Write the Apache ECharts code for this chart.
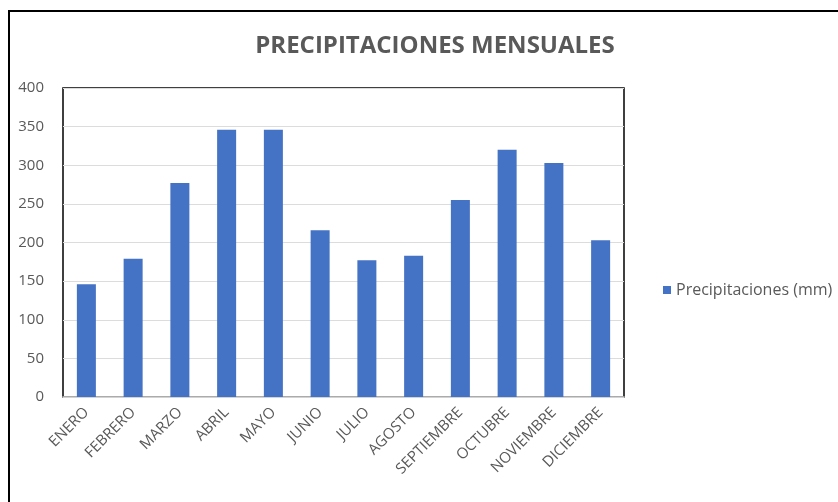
<!DOCTYPE html>
<html>
<head>
<meta charset="utf-8">
<script src="https://cdn.jsdelivr.net/npm/echarts@6/dist/echarts.min.js"></script>
<style>
  html, body { margin: 0; padding: 0; background: #fff; }
  #main { width: 838px; height: 502px; }
</style>
</head>
<body>
<div id="main"></div>
<script>
var months = ['ENERO', 'FEBRERO', 'MARZO', 'ABRIL', 'MAYO', 'JUNIO', 'JULIO',
              'AGOSTO', 'SEPTIEMBRE', 'OCTUBRE', 'NOVIEMBRE', 'DICIEMBRE'];
var rain = [146, 179, 277, 346, 346, 216, 177, 183, 255, 320, 303, 203];
var seriesName = 'Precipitaciones (mm)';

var dom = document.getElementById('main');
var myChart = echarts.init(dom);
var gray = '#595959';
var option = {
    animation: false,
    color: ['#4472C4'],
    title: {
        text: 'PRECIPITACIONES MENSUALES',
        left: 430,
        textAlign: 'center',
        top: 29,
        textStyle: { fontFamily: 'Open Sans', fontWeight: 'bold', fontSize: 24, color: gray }
    },
    legend: {
        left: 658,
        top: 277,
        itemWidth: 8,
        itemHeight: 8,
        itemGap: 6,
        icon: 'rect',
        textStyle: { fontFamily: 'Open Sans', fontSize: 16, color: gray },
        data: [seriesName]
    },
    grid: {
        left: 63, top: 88, right: 214, bottom: 105,
        show: true,
        borderColor: '#000',
        borderWidth: 1.5
    },
    xAxis: {
        type: 'category',
        data: months,
        axisLine: { show: true, lineStyle: { color: '#d0d0d0', width: 1.5 } },
        axisTick: { show: false },
        axisLabel: {
            rotate: 45, margin: 13, interval: 0,
            fontFamily: 'Open Sans', fontSize: 15, color: gray
        }
    },
    yAxis: {
        type: 'value',
        min: 0, max: 400, interval: 50,
        axisLine: { show: false },
        axisTick: { show: false },
        axisLabel: { fontFamily: 'Open Sans', fontSize: 15, color: gray, margin: 19 },
        splitLine: { lineStyle: { color: '#dcdcdc', width: 1.2 } }
    },
    series: [
        {
            name: seriesName,
            type: 'bar',
            data: rain,
            barWidth: 19
        }
    ],
    graphic: [
        {
            type: 'polyline',
            shape: { points: [[9, 502], [9, 11], [838, 11]] },
            style: { stroke: '#000', lineWidth: 2, fill: null }
        }
    ]
};
myChart.setOption(option);
window.addEventListener('resize', function() {
    myChart.resize();
});
</script>
</body>
</html>
